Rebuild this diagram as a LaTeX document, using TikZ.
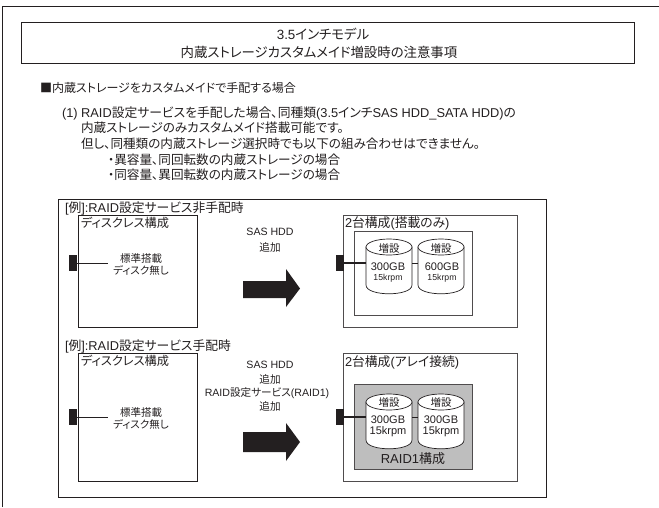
\documentclass[tikz,border=0pt]{standalone}
\usepackage{fontspec}
\setmainfont{Liberation Sans}
\newfontfamily\cjk[RawFeature=+palt]{Noto Sans CJK JP}
\newcommand{\J}[1]{{\cjk #1}}
\definecolor{ink}{HTML}{231F20}
\definecolor{boxgray}{HTML}{BEBEBE}
\newcommand{\diskat}[3]{% name, centre x, top y
  \pgfmathsetmacro{\xl}{#2-23}\pgfmathsetmacro{\xr}{#2+23}
  \pgfmathsetmacro{\yc}{#3+8}\pgfmathsetmacro{\yb}{#3+46}\pgfmathsetmacro{\yk}{#3+57.7}
  \filldraw[diskline] (\xl,\yc) -- (\xl,\yb) .. controls (\xl,\yk) and (\xr,\yk) .. (\xr,\yb) -- (\xr,\yc) -- cycle;
  \filldraw[diskline] (#2,\yc) ellipse [x radius=23,y radius=8];
  \node[diskslot] (#1) at (#2,#3+25.5) {};
}
\tikzset{
  x=1pt,y=-1pt,
  every node/.style={inner sep=0pt,outer sep=0pt,text=ink},
  frameline/.style={draw=ink,line width=0.9pt},
  softframe/.style={draw=ink!80,line width=0.9pt},
  lefttext/.style={anchor=west,font=\fontsize{#1}{#1}\selectfont},
  ctext/.style={anchor=center,font=\fontsize{#1}{#1}\selectfont,align=center},
  port/.style={fill=ink,draw=none,minimum width=8pt,minimum height=16pt},
  bigarrow/.style={fill=ink,draw=none},
  diskline/.style={draw=ink,line width=0.7pt,fill=white},
  diskslot/.style={draw=none,minimum width=46pt,minimum height=51pt},
  wire/.style={draw=ink,line width=1.6pt},
}
\begin{document}
\begin{tikzpicture}
\useasboundingbox (0,0) rectangle (659,507);
\coordinate (ofa) at (2.5,507);
\coordinate (ofb) at (2.5,6);
\coordinate (ofc) at (659,6);
\draw[frameline] (ofa) -- (ofb) -- (ofc);
\node[frameline,minimum width=613.5pt,minimum height=41.5pt] (title) at (327.75,42.75) {};
\node[ctext=13.4] (t1) at (323,34) {3.5\J{インチモデル}};
\node[ctext=13.4] (t2) at (319,52) {\J{内蔵ストレージカスタムメイド増設時の注意事項}};
\node[lefttext=12] (h) at (40,88) {\J{■内蔵ストレージをカスタムメイドで手配する場合}};
\node[lefttext=12.8] (l1) at (62,113) {(1) RAID\J{設定サービスを手配した場合、同種類}(3.5\J{インチ}SAS HDD\_SATA HDD)\J{の}};
\node[lefttext=12.6] (l2) at (81,128) {\J{内蔵ストレージのみカスタムメイド搭載可能です。}};
\node[lefttext=12.6] (l3) at (81,143.5) {\J{但し、同種類の内蔵ストレージ選択時でも以下の組み合わせはできません。}};
\node[lefttext=12.6] (l4) at (108,159.5) {\J{・異容量、同回転数の内蔵ストレージの場合}};
\node[lefttext=12.6] (l5) at (108,175) {\J{・同容量、異回転数の内蔵ストレージの場合}};

\node[frameline,minimum width=488.5pt,minimum height=298pt] (outer) at (302.25,348) {};

% upper row
\node[lefttext=12.8] (e1) at (65,208) {[\J{例}]:RAID\J{設定サービス非手配時}};
\node[frameline,minimum width=119pt,minimum height=112pt] (ls1) at (137.5,271) {};
\node[lefttext=12.2] (ls1t) at (81,223) {\J{ディスクレス構成}};
\node[port] (p1) at (73,263) {};
\coordinate (w1) at (108,263);
\draw[wire,line width=1pt] (p1) -- (w1);
\node[ctext=10.5] (ls1a) at (141,258) {\J{標準搭載}};
\node[ctext=10.5] (ls1b) at (141,270) {\J{ディスク無し}};
\node[ctext=10.6] (a1a) at (270,232) {SAS HDD};
\node[ctext=10.6] (a1b) at (270,247) {\J{追加}};
\path[bigarrow] (243,281) -- (286,281) -- (286,269) -- (300,288.5) -- (286,307) -- (286,298) -- (243,298) -- cycle;

\node[softframe,minimum width=174pt,minimum height=112pt] (rs1) at (430,271) {};
\node[lefttext=12.8] (rs1t) at (345,223) {2\J{台構成}(\J{搭載のみ})};
\node[softframe,minimum width=118pt,minimum height=84pt] (in1) at (413,273) {};
\diskat{d1}{389}{239}
\diskat{d2}{441}{239}
\node[port] (p2) at (340,263) {};
\draw[wire] (p2) -- (d1.west |- p2);
\draw[wire,line width=1pt] (d1.east |- p2) -- (d2.west |- p2);
\node[ctext=10.5] (d1a) at (389,248) {\J{増設}};
\node[ctext=10.5] (d2a) at (441,248) {\J{増設}};
\node[ctext=11] (d1b) at (388,267) {300GB};
\node[ctext=11] (d2b) at (442,267) {600GB};
\node[ctext=8.7] (d1c) at (388,278) {15krpm};
\node[ctext=8.7] (d2c) at (442,278) {15krpm};

% lower row
\node[lefttext=12.8] (e2) at (65,346) {[\J{例}]:RAID\J{設定サービス手配時}};
\node[frameline,minimum width=119pt,minimum height=128pt] (ls2) at (137.5,417) {};
\node[lefttext=12.2] (ls2t) at (81,361) {\J{ディスクレス構成}};
\node[port] (p3) at (73,417) {};
\coordinate (w3) at (108,417);
\draw[wire,line width=1pt] (p3) -- (w3);
\node[ctext=10.5] (ls2a) at (141,412) {\J{標準搭載}};
\node[ctext=10.5] (ls2b) at (141,424) {\J{ディスク無し}};
\node[ctext=10.6] (a2a) at (270,365) {SAS HDD};
\node[ctext=10.6] (a2b) at (270,379) {\J{追加}};
\node[ctext=10.6] (a2c) at (267,393) {RAID\J{設定サービス}(RAID1)};
\node[ctext=10.6] (a2d) at (270,406) {\J{追加}};
\path[bigarrow] (243,432) -- (286,432) -- (286,423) -- (300,442) -- (286,461) -- (286,452) -- (243,452) -- cycle;

\node[softframe,minimum width=174pt,minimum height=128pt] (rs2) at (430,417) {};
\node[lefttext=12.8] (rs2t) at (345,362) {2\J{台構成}(\J{アレイ接続})};
\node[softframe,fill=boxgray,minimum width=118pt,minimum height=85pt] (in2) at (413,426.5) {};
\diskat{d3}{389}{394}
\diskat{d4}{441}{394}
\node[port] (p4) at (340,417) {};
\draw[wire] (p4) -- (d3.west |- p4);
\draw[wire,line width=1pt] (d3.east |- p4) -- (d4.west |- p4);
\node[ctext=10.5] (d3a) at (389,402) {\J{増設}};
\node[ctext=10.5] (d4a) at (441,402) {\J{増設}};
\node[ctext=11] (d3b) at (388,420) {300GB};
\node[ctext=11] (d4b) at (441,420) {300GB};
\node[ctext=11] (d3c) at (388,432) {15krpm};
\node[ctext=11] (d4c) at (441,432) {15krpm};
\node[ctext=13] (raid) at (413,459) {RAID1\J{構成}};
\end{tikzpicture}
\end{document}
